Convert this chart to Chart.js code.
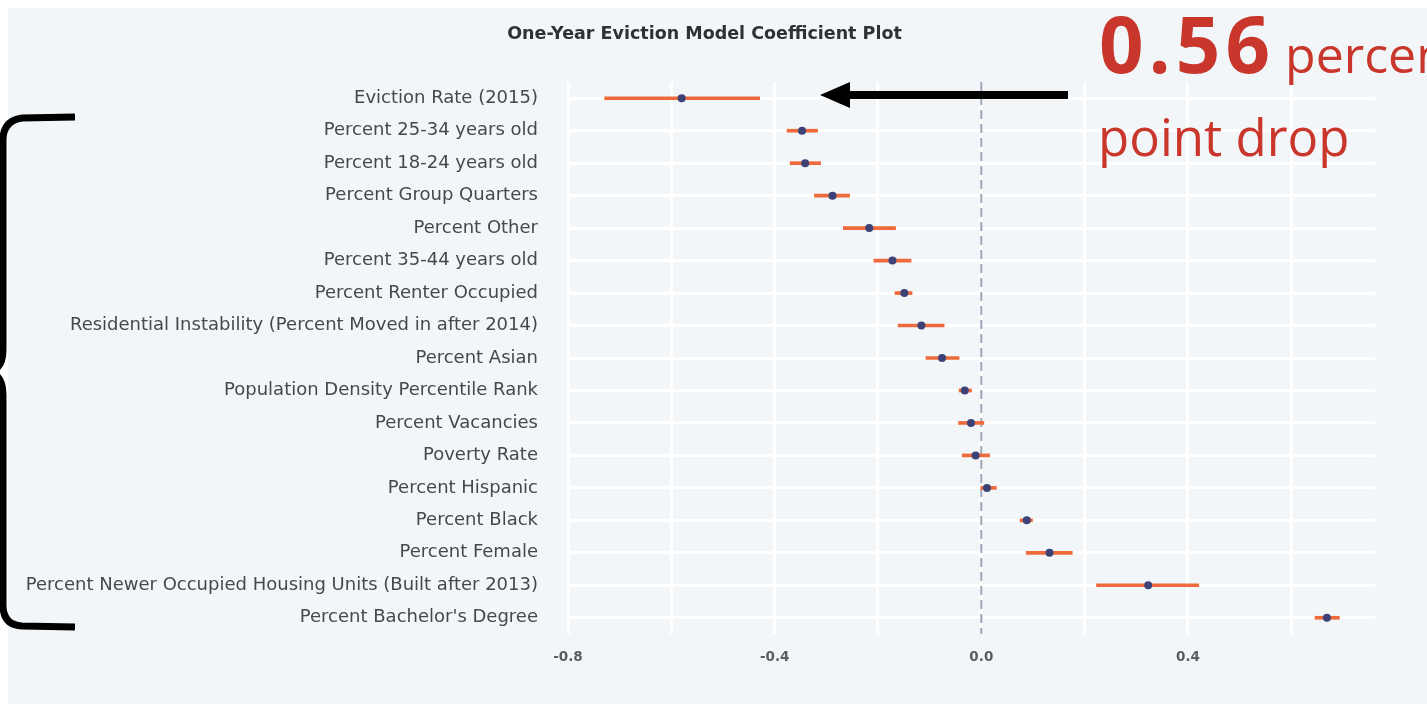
<!DOCTYPE html>
<html>
<head>
<meta charset="utf-8">
<script src="https://cdn.jsdelivr.net/npm/chart.js@4/dist/chart.umd.min.js"></script>
<style>
  html, body { margin: 0; padding: 0; background: #ffffff; overflow: hidden; }
  #wrap { position: relative; width: 1427px; height: 712px; }
  #panel { position: absolute; left: 8px; top: 8px; width: 1419px; height: 696px; background: #f2f6f8; }
  #chartCoef { position: absolute; left: 0; top: 0; }
  .note { position: absolute; color: #c9362b; font-family: "Open Sans", sans-serif; white-space: nowrap; line-height: 1; }
  #noteTop { left: 1099px; top: 4px; font-size: 50px; }
  #noteTop b { font-size: 78px; font-weight: 700; letter-spacing: 5px; margin-right: 10px; }
  #noteBottom { left: 1098px; top: 111px; font-size: 51px; }
</style>
</head>
<body>
<div id="wrap">
  <div id="panel"></div>
  <canvas id="chartCoef" width="1427" height="712"></canvas>
  <div class="note" id="noteTop"><b>0.56</b>percent</div>
  <div class="note" id="noteBottom">point drop</div>
</div>
<script>
// ---- data
const variables = [
  'Eviction Rate (2015)',
  'Percent 25-34 years old',
  'Percent 18-24 years old',
  'Percent Group Quarters',
  'Percent Other',
  'Percent 35-44 years old',
  'Percent Renter Occupied',
  'Residential Instability (Percent Moved in after 2014)',
  'Percent Asian',
  'Population Density Percentile Rank',
  'Percent Vacancies',
  'Poverty Rate',
  'Percent Hispanic',
  'Percent Black',
  'Percent Female',
  'Percent Newer Occupied Housing Units (Built after 2013)',
  "Percent Bachelor's Degree"
];
const estimates = [-0.580, -0.347, -0.341, -0.288, -0.217, -0.172, -0.149, -0.116, -0.076,
                   -0.032, -0.020, -0.011, 0.011, 0.088, 0.132, 0.323, 0.669];
const lowerCI   = [-0.729, -0.376, -0.370, -0.323, -0.267, -0.208, -0.167, -0.161, -0.107,
                   -0.043, -0.044, -0.037, -0.001, 0.075, 0.087, 0.223, 0.646];
const upperCI   = [-0.429, -0.317, -0.311, -0.255, -0.166, -0.136, -0.134, -0.072, -0.043,
                   -0.019, 0.005, 0.016, 0.029, 0.099, 0.176, 0.421, 0.693];
const xTickLabels = [-0.8, -0.4, 0.0, 0.4];

window.onload = function(){
  drawCoefPlot();
}

// dashed zero line + arrow + bracket
const extrasPlugin = {
  id: 'extras',
  afterLayout(chart){
    // centre the title a bit further right, like the original
    const t = chart.titleBlock;
    if (t) {
      t.left += 34;
      t.width = t.right - t.left;
    }
  },
  beforeDatasetsDraw(chart){
    const ctx = chart.ctx;
    const x0 = chart.scales.x.getPixelForValue(0);
    const area = chart.chartArea;
    ctx.save();
    ctx.strokeStyle = '#9ea2b8';
    ctx.lineWidth = 2;
    ctx.setLineDash([9, 5]);
    ctx.beginPath();
    ctx.moveTo(x0, area.top);
    ctx.lineTo(x0, area.bottom);
    ctx.stroke();
    ctx.restore();
  },
  afterDraw(chart){
    const ctx = chart.ctx;
    ctx.save();
    // arrow pointing at the eviction rate estimate
    ctx.fillStyle = '#000';
    ctx.fillRect(848, 91, 220, 8);
    ctx.beginPath();
    ctx.moveTo(820, 95);
    ctx.lineTo(850, 82);
    ctx.lineTo(850, 108);
    ctx.closePath();
    ctx.fill();
    // bracket on the left
    ctx.strokeStyle = '#000';
    ctx.lineWidth = 7;
    ctx.lineCap = 'butt';
    ctx.beginPath();
    ctx.moveTo(75, 117);
    ctx.lineTo(22, 118);
    ctx.quadraticCurveTo(3, 121, 3, 140);
    ctx.lineTo(3, 350);
    ctx.quadraticCurveTo(3, 368, -10, 372);
    ctx.quadraticCurveTo(3, 376, 3, 395);
    ctx.lineTo(3, 605);
    ctx.quadraticCurveTo(3, 625, 22, 626);
    ctx.lineTo(75, 627);
    ctx.stroke();
    ctx.restore();
  }
};

let coefChart;
function drawCoefPlot(){
  var ctx = document.getElementById('chartCoef').getContext('2d');
  if (coefChart) {
    coefChart.destroy();
  }
  const intervals = lowerCI.map((lo, i) => [lo, upperCI[i]]);

  coefChart = new Chart(ctx, {
    type: 'bar',
    data: {
      labels: variables,
      datasets: [
        {
          type: 'line',
          label: 'Estimate',
          data: estimates,
          showLine: false,
          pointRadius: 4,
          pointHoverRadius: 4,
          pointBackgroundColor: '#3c4276',
          pointBorderWidth: 0,
          order: 0
        },
        {
          label: 'Interval',
          data: intervals,
          backgroundColor: '#ee6a3a',
          borderWidth: 0,
          borderSkipped: false,
          barThickness: 3,
          order: 1
        }
      ]
    },
    plugins: [extrasPlugin],
    options: {
      indexAxis: 'y',
      responsive: false,
      animation: false,
      layout: { padding: { left: 0, right: 52, top: 0, bottom: 0 } },
      plugins: {
        legend: { display: false },
        tooltip: { enabled: false },
        title: {
          display: true,
          text: 'One-Year Eviction Model Coefficient Plot',
          color: '#2f3133',
          font: { family: '"DejaVu Sans", sans-serif', size: 17.5, weight: 'bold' },
          padding: { top: 24, bottom: 37 }
        }
      },
      scales: {
        x: {
          type: 'linear',
          min: -0.8,
          max: 0.762,
          grid: { color: '#ffffff', lineWidth: 3, drawTicks: false },
          border: { display: false },
          ticks: {
            stepSize: 0.2,
            includeBounds: false,
            padding: 15,
            color: '#5a5d61',
            font: { family: '"DejaVu Sans", sans-serif', size: 13.5, weight: 'bold' },
            callback: function(v){
              const hit = xTickLabels.find(t => Math.abs(t - v) < 1e-6);
              if (hit === undefined) return '';
              return Math.abs(hit) < 1e-9 ? '0.0' : hit.toFixed(1);
            }
          },
          afterFit: function(scale){ scale.height = 78; }
        },
        y: {
          type: 'category',
          offset: true,
          grid: { color: '#ffffff', lineWidth: 3, drawTicks: false, offset: false },
          border: { display: false },
          ticks: {
            padding: 30,
            color: '#45484c',
            font: { family: '"DejaVu Sans", sans-serif', size: 18 }
          },
          afterFit: function(scale){ scale.width = 568; }
        }
      }
    }
  });
}
</script>
</body>
</html>
